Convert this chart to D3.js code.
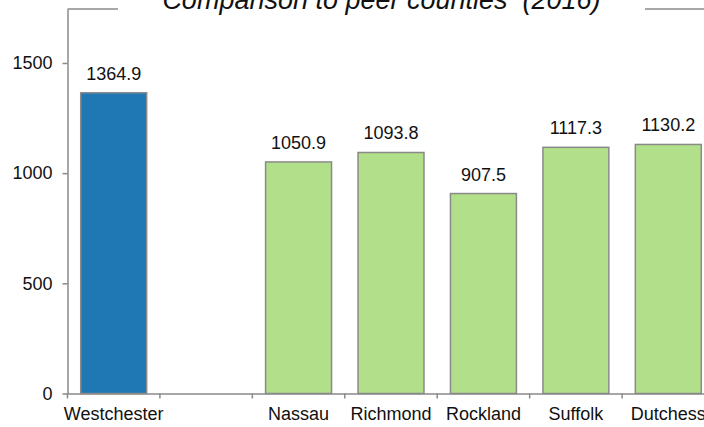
<!DOCTYPE html>
<html>
<head>
<meta charset="utf-8">
<script src="https://cdn.jsdelivr.net/npm/d3@7"></script>
<style>
  html, body { margin: 0; padding: 0; background: #fff; }
  svg { display: block; }
  text { font-family: "Liberation Sans", Arial, sans-serif; fill: #111; }
</style>
</head>
<body>
<svg id="chart" width="704" height="427"></svg>
<script>
const categories = ["Westchester", "", "Nassau", "Richmond", "Rockland", "Suffolk", "Dutchess"];
const values = [1364.9, null, 1050.9, 1093.8, 907.5, 1117.3, 1130.2];
const barGroups = ["focus", "none", "peer", "peer", "peer", "peer", "peer"];
const yTicks = [0, 500, 1000, 1500];
const title = "Comparison to peer counties\u00a0 (2016)";

(function () {
const colors = { focus: "#1f78b4", peer: "#b2df8a" };
const gray = "#8a8a8a";

const svg = d3.select("#chart");
const pLeft = 67.5, pRight = 714.5, pTop = 9, pBottom = 393.5;

const x = d3.scaleBand()
  .domain(categories.map((c, i) => i))
  .range([pLeft, pRight])
  .paddingInner(0.2865)
  .paddingOuter(0.143);

const y = d3.scaleLinear().domain([0, 1745]).range([pBottom, pTop]);

// plot frame top line
svg.append("line")
  .attr("x1", pLeft).attr("x2", 704)
  .attr("y1", y(1745)).attr("y2", y(1745))
  .attr("stroke", gray).attr("stroke-width", 1.5);

// bars
const data = categories.map((c, i) => ({ c, i, v: values[i], g: barGroups[i] })).filter(d => d.v != null);
svg.append("g").selectAll("rect").data(data).join("rect")
  .attr("x", d => x(d.i))
  .attr("y", d => y(d.v))
  .attr("width", x.bandwidth())
  .attr("height", d => y(0) - y(d.v))
  .attr("fill", d => colors[d.g])
  .attr("stroke", gray).attr("stroke-width", 1.5);

// value labels
svg.append("g").selectAll("text").data(data).join("text")
  .attr("x", d => x(d.i) + x.bandwidth() / 2)
  .attr("y", d => y(d.v) - 13)
  .attr("text-anchor", "middle")
  .attr("font-size", 18)
  .text(d => d.v.toFixed(1));

// y axis
const yAxis = svg.append("g")
  .attr("transform", `translate(${pLeft},0)`)
  .call(d3.axisLeft(y).tickValues(yTicks).tickFormat(d3.format("d")).tickSize(5).tickSizeOuter(0).tickPadding(10));
yAxis.select(".domain").attr("stroke", gray).attr("stroke-width", 1.5);
yAxis.selectAll(".tick line").attr("stroke", gray).attr("stroke-width", 1.5);
yAxis.selectAll(".tick text").attr("font-size", 18).attr("fill", "#111")
  .attr("font-family", '"Liberation Sans", Arial, sans-serif');

// x axis
const xAxis = svg.append("g")
  .attr("transform", `translate(0,${pBottom})`)
  .call(d3.axisBottom(x).tickFormat(i => categories[i]).tickSize(0).tickSizeOuter(0).tickPadding(14));
xAxis.select(".domain").attr("stroke", gray).attr("stroke-width", 1.5);
xAxis.selectAll(".tick text").attr("font-size", 18).attr("fill", "#111")
  .attr("font-family", '"Liberation Sans", Arial, sans-serif');

// boundary ticks between categories
const bounds = categories.map((c, i) => x(i) - x.step() * x.paddingInner() / 2).concat([pRight]);
svg.append("g").selectAll("line").data(bounds).join("line")
  .attr("x1", d => d).attr("x2", d => d)
  .attr("y1", pBottom).attr("y2", pBottom + 5)
  .attr("stroke", gray).attr("stroke-width", 1.5);

// title with white backdrop
svg.append("rect")
  .attr("x", 118).attr("y", 0).attr("width", 645 - 118).attr("height", 20)
  .attr("fill", "#fff");
svg.append("text")
  .attr("x", 381.5).attr("y", 9)
  .attr("text-anchor", "middle")
  .attr("font-size", 27)
  .attr("font-style", "italic")
  .text(title);
})();
</script>
</body>
</html>
